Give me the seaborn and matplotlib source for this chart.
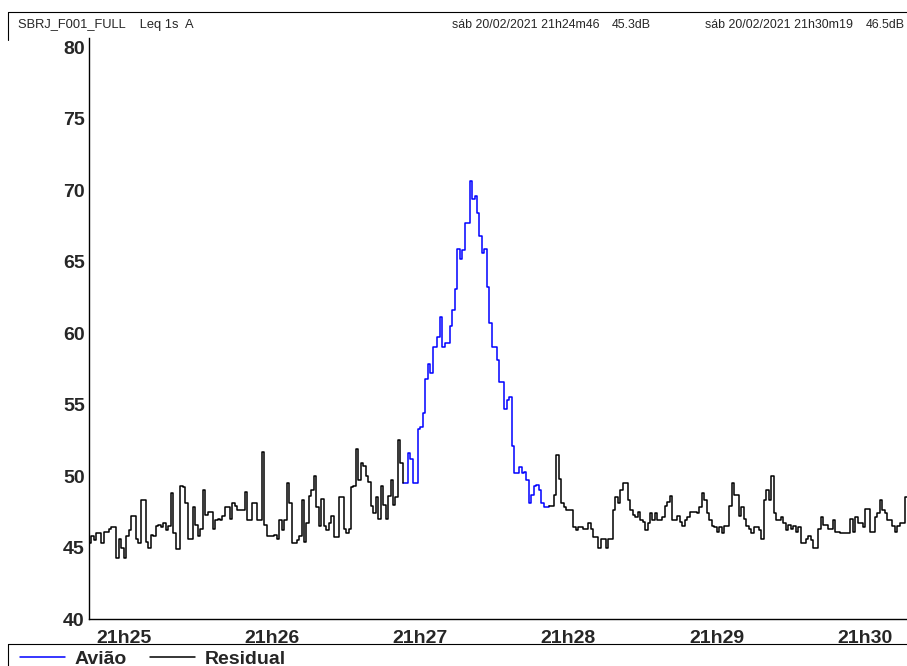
import pandas as pd
import matplotlib.pyplot as plt
import matplotlib.dates as mdates
from matplotlib.lines import Line2D
import seaborn as sns

sns.set_style("white")
plt.rcParams["font.family"] = ["Liberation Sans", "DejaVu Sans"]

inicio = pd.Timestamp("2021-02-20 21:24:46")
fim = pd.Timestamp("2021-02-20 21:30:19")

# Leq 1s (dB A), one value per second
residual_antes = [
    45.3, 45.8, 45.5, 46.0, 46.0, 45.3, 46.1, 46.1, 46.3, 46.4, 46.4, 44.3,
    45.6, 45.0, 44.3, 45.8, 46.2, 47.2, 47.2, 45.6, 45.3, 48.3, 48.3, 45.4,
    45.0, 45.9, 45.8, 46.5, 46.6, 46.4, 46.7, 46.2, 46.5,
    48.8, 46.0, 44.9, 44.9, 49.3, 49.2, 48.1, 45.6, 45.6, 47.8, 46.6, 45.8,
    46.3, 49.0, 47.3, 47.5, 47.5, 46.3, 46.9, 47.0, 46.9, 47.2, 47.8, 47.8,
    47.0, 48.1, 47.9, 47.6, 47.6, 47.6, 48.9, 46.9, 46.9,
    48.1, 48.1, 46.9, 46.9, 51.7, 46.6, 45.8, 45.8, 45.8, 45.9, 45.6, 46.9,
    46.2, 46.9, 49.5, 48.1, 45.3, 45.3, 45.5, 45.8, 48.3, 45.4, 46.7, 48.6,
    49.0, 50.0, 47.8, 46.5, 48.4, 46.5, 46.2, 46.7, 47.2,
    45.7, 45.7, 48.5, 48.5, 46.3, 46.0, 46.3, 49.2, 49.3, 51.9, 49.7, 50.9,
    50.7, 50.0, 49.6, 47.9, 47.4, 48.5, 47.0, 49.3, 48.0, 47.0, 48.6, 49.7,
    48.0, 48.5, 52.5, 50.9,
]

aviao = [
    49.5, 49.5, 51.6, 51.2, 49.5, 49.5, 53.3, 53.4, 54.4, 56.8,
    57.8, 57.2, 59.0, 59.0, 59.7, 61.1, 59.0, 59.3, 59.3, 60.5,
    61.6, 63.1, 65.9, 65.2, 65.8, 67.7, 67.7, 70.6, 69.4, 69.6,
    68.4, 66.8, 65.6, 65.9, 63.2, 60.7, 59.0, 59.0, 58.1, 56.6,
    56.6, 54.7, 55.3, 55.5, 52.1, 50.2, 50.2, 50.6, 50.2, 50.3,
    49.7, 48.1, 48.7, 49.3, 49.4, 49.0, 48.1, 47.8, 47.8,
]

residual_depois = [
    47.9, 47.9, 48.7, 51.5, 49.8, 48.1, 47.8, 47.6, 47.6, 47.6, 46.4, 46.2,
    46.4, 46.4, 46.3, 46.3, 46.7, 46.3, 45.7, 45.7, 45.0, 45.6, 45.6, 45.0,
    45.6, 45.6, 47.6, 48.5, 48.1, 49.0, 49.5, 49.5, 48.3, 47.6, 47.3, 47.1,
    47.5, 46.9, 46.8, 46.2, 46.7, 47.4, 46.9, 47.4, 46.9, 46.9, 47.1, 47.9,
    48.2, 48.6, 46.9, 46.9, 47.2, 46.8, 46.5, 46.9, 47.1, 47.5, 47.5, 47.5,
    47.4, 47.8, 48.8, 48.3, 47.4, 46.9, 46.5, 46.4, 46.1, 46.4, 46.0, 46.5,
    46.5, 47.9, 49.5, 48.7, 48.7, 47.2, 47.8, 47.0, 46.5, 46.3, 46.0, 46.4,
    46.4, 46.2, 45.6, 48.3, 49.0, 48.3, 50.0, 47.4, 46.9, 46.9, 47.1, 46.7,
    46.2, 46.6, 46.3, 46.5, 46.1, 46.4, 45.3, 45.3, 45.6, 45.8, 45.5, 45.0,
    45.0, 46.3, 47.1, 46.6, 46.6, 46.3, 46.3, 46.9, 46.1, 46.1, 46.0, 46.0,
    46.0, 46.0, 47.0, 46.1, 47.1, 46.7, 46.7, 46.4, 47.7, 47.7, 46.1, 46.1,
    47.1, 47.4, 48.3, 47.6, 47.4, 46.9, 46.9, 46.5, 46.1, 46.5, 46.7, 46.7,
    48.5, 48.5,
]

nivel = residual_antes + aviao + residual_depois
hora = pd.date_range(inicio, periods=len(nivel), freq="s")

a0 = len(residual_antes)
a1 = a0 + len(aviao)

# three pieces, each one sharing its edge point with the next
trechos = [("Residual", 0, a0 + 1), ("Avião", a0, a1 + 1), ("Residual", a1, len(nivel))]
partes = []
for k, (fonte, i, j) in enumerate(trechos):
    partes.append(pd.DataFrame({
        "hora": hora[i:j],
        "nivel": nivel[i:j],
        "fonte": fonte,
        "trecho": k,
    }))
df = pd.concat(partes, ignore_index=True)

fig = plt.figure(figsize=(9.07, 6.66), dpi=100)
ax = fig.add_axes([89 / 907, 47 / 666, 823 / 907, 581 / 666])

sns.lineplot(
    data=df,
    x="hora",
    y="nivel",
    hue="fonte",
    hue_order=["Avião", "Residual"],
    units="trecho",
    estimator=None,
    palette={"Avião": "#0000ff", "Residual": "black"},
    drawstyle="steps-post",
    linewidth=1.1,
    ax=ax,
)

ax.set_xlim(inicio, inicio + pd.Timedelta(seconds=333))
ax.set_ylim(40, 80.63)
ax.set_yticks(range(40, 81, 5))
ax.xaxis.set_major_locator(mdates.MinuteLocator())
ax.xaxis.set_minor_locator(mdates.SecondLocator(bysecond=[30]))
ax.xaxis.set_major_formatter(mdates.DateFormatter("%Hh%M"))
ax.set_xlabel("")
ax.set_ylabel("")

for s in ["top", "right"]:
    ax.spines[s].set_visible(False)
for s in ["left", "bottom"]:
    ax.spines[s].set_color("black")
    ax.spines[s].set_linewidth(1.0)

ax.tick_params(axis="x", which="both", direction="out", length=5, width=1,
               color="black", pad=3)
ax.tick_params(axis="y", direction="out", length=2, width=1, color="black", pad=1)
for lbl in ax.get_xticklabels() + ax.get_yticklabels():
    lbl.set_fontsize(14)
    lbl.set_fontweight("bold")

handles, labels = ax.get_legend_handles_labels()
ax.get_legend().remove()
fig.legend(
    handles, labels,
    loc="center left",
    bbox_to_anchor=(20 / 907, 1 - 659 / 666),
    ncol=2,
    frameon=False,
    handlelength=2.3,
    handletextpad=0.5,
    columnspacing=1.2,
    borderaxespad=0,
    borderpad=0,
    prop={"size": 14, "weight": "bold"},
)

# header and frame
fig.text(18 / 907, 1 - 25 / 666, "SBRJ_F001_FULL    Leq 1s  A", fontsize=9.3, va="center")
fig.text(452 / 907, 1 - 25 / 666, "sáb 20/02/2021 21h24m46", fontsize=8.9, va="center")
fig.text(612 / 907, 1 - 25 / 666, "45.3dB", fontsize=8.9, va="center")
fig.text(705 / 907, 1 - 25 / 666, "sáb 20/02/2021 21h30m19", fontsize=8.9, va="center")
fig.text(866 / 907, 1 - 25 / 666, "46.5dB", fontsize=8.9, va="center")

fig.add_artist(Line2D([8 / 907, 1], [1 - 12 / 666] * 2, color="black", lw=0.8))
fig.add_artist(Line2D([8 / 907] * 2, [1 - 12 / 666, 1 - 40 / 666], color="black", lw=0.8))
fig.add_artist(Line2D([8 / 907, 1], [1 - 644 / 666] * 2, color="black", lw=0.8))
fig.add_artist(Line2D([8 / 907] * 2, [1 - 644 / 666, 0], color="black", lw=0.8))

fig.savefig("out.png", dpi=100)
